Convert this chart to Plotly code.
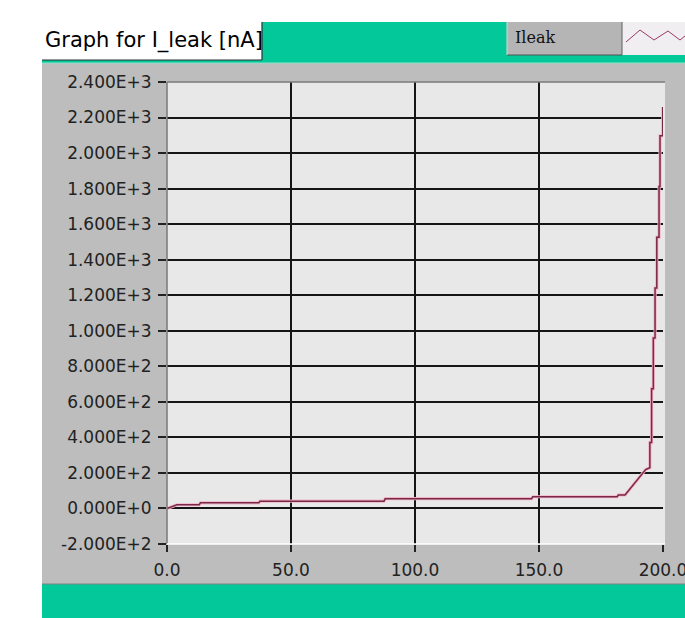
import plotly.graph_objects as go

# ---- data ----
bias_v = [0, 4, 13, 13.5, 37, 37.5, 87.5, 88, 147, 147.5, 181.5, 182, 184.7, 193, 194.7,
          194.7, 195.4, 195.4, 196.1, 196.1, 196.8, 196.8, 197.5, 197.5, 198.4, 198.4,
          198.8, 198.8, 199.9, 199.9]
i_leak = [0, 21, 21, 32, 32, 41, 41, 55, 55, 66, 66, 76, 76, 219, 229,
          371, 371, 674, 674, 960, 960, 1240, 1240, 1526, 1526, 1812,
          1812, 2097, 2097, 2260]

x_ticks = [0, 50, 100, 150, 200]
x_ticktext = ["0.0", "50.0", "100.0", "150.0", "200.0"]
x_grid = [50, 100, 150]
y_ticks = [-200, 0, 200, 400, 600, 800, 1000, 1200, 1400, 1600, 1800, 2000, 2200, 2400]
y_ticktext = ["-2.000E+2", "0.000E+0", "2.000E+2", "4.000E+2", "6.000E+2", "8.000E+2",
              "1.000E+3", "1.200E+3", "1.400E+3", "1.600E+3", "1.800E+3", "2.000E+3",
              "2.200E+3", "2.400E+3"]

W, H = 685, 618
L, R, T, B = 167, 22, 82, 74
PW, PH = W - L - R, H - T - B

def fx(p):
    return (p - L) / PW

def fy(p):
    return (H - B - p) / PH

GREEN = "#03c99a"
PANEL = "#bdbdbd"

fig = go.Figure()
fig.add_trace(go.Scatter(x=bias_v, y=i_leak, mode="lines",
                         line=dict(color="#f2b3c6", width=3.2), hoverinfo="skip",
                         showlegend=False))
fig.add_trace(go.Scatter(x=bias_v, y=i_leak, mode="lines", name="Ileak",
                         line=dict(color="#7a2848", width=1.5), showlegend=False))
# invisible trace so the labelled x axis is drawn
fig.add_trace(go.Scatter(x=[x_ticks[0], x_ticks[-1]], y=[y_ticks[0], y_ticks[0]],
                         xaxis="x2", mode="none", hoverinfo="skip", showlegend=False))

shapes = []
def rect(x0, y0, x1, y1, color, layer="below", line=None):
    shapes.append(dict(type="rect", xref="paper", yref="paper",
                       x0=fx(x0), x1=fx(x1), y0=fy(y0), y1=fy(y1),
                       fillcolor=color, layer=layer,
                       line=line if line else dict(width=0)))

def hline(x0, x1, y, color, w, layer="above"):
    shapes.append(dict(type="line", xref="paper", yref="paper",
                       x0=fx(x0), x1=fx(x1), y0=fy(y), y1=fy(y),
                       line=dict(color=color, width=w), layer=layer))

def vline(x, y0, y1, color, w, layer="above"):
    shapes.append(dict(type="line", xref="paper", yref="paper",
                       x0=fx(x), x1=fx(x), y0=fy(y0), y1=fy(y1),
                       line=dict(color=color, width=w), layer=layer))

# main gray panel
rect(42, 63, 685, 584, PANEL)
# teal stripe at top of panel
rect(42, 59, 685, 63, GREEN)
hline(42, 685, 63, "#8fe0c8", 1, layer="below")
# title band
rect(262, 22, 685, 60, GREEN)
rect(42, 22, 262, 60, "white")
hline(42, 262, 60, "#303030", 1.2, layer="below")
vline(262, 22, 60, "#303030", 1.2, layer="below")
# legend boxes
rect(507, 22, 622, 55, "#b5b5b5")
hline(507, 622, 55, "#505050", 1, layer="below")
vline(507, 22, 55, "#d8d8d8", 1, layer="below")
rect(622, 22, 685, 55, "#f0eef0")
vline(622, 22, 55, "#606060", 1, layer="below")
# bottom green band
rect(42, 584, 685, 618, GREEN)
hline(42, 685, 584, "#808080", 1, layer="below")
# plot area background
rect(L, T, W - R + 2, H - B, "#e8e8e8")
# plot border (3D inset look)
hline(L, W - R + 2, T, "#7a7a7a", 1.5)
vline(L, T, H - B, "#7a7a7a", 1.5)
hline(L, W - R + 2, H - B, "#ffffff", 1.5)

# legend sample zigzag
zz = [(626, 42), (640, 30), (654, 40), (668, 31), (680, 40), (685, 36)]
path = "M " + " L ".join(f"{fx(a)},{fy(b)}" for a, b in zz)
shapes.append(dict(type="path", xref="paper", yref="paper", path=path,
                   line=dict(color="#9a3a60", width=1), layer="above"))

annotations = [
    dict(text="Graph for I_leak [nA]", xref="paper", yref="paper",
         x=fx(43), y=fy(41), xanchor="left", yanchor="middle", showarrow=False,
         font=dict(family="DejaVu Sans", size=21, color="black")),
    dict(text="Ileak", xref="paper", yref="paper",
         x=fx(513), y=fy(37), xanchor="left", yanchor="middle", showarrow=False,
         font=dict(family="DejaVu Serif", size=16, color="#111")),
]

fig.update_layout(
    width=W, height=H, autosize=False,
    margin=dict(l=L, r=R, t=T, b=B, pad=0, autoexpand=False),
    paper_bgcolor="white", plot_bgcolor="#e8e8e8",
    shapes=shapes, annotations=annotations,
    showlegend=False,
    font=dict(family="DejaVu Sans", size=17, color="#222"),
    xaxis=dict(range=[0, 200], tickvals=x_grid, showticklabels=False, ticks="",
               showgrid=True, gridcolor="#151515", gridwidth=1.6,
               zeroline=False, showline=False, automargin=False),
    xaxis2=dict(range=[0, 200], overlaying="x", side="bottom", anchor="y",
                tickvals=x_ticks, ticktext=x_ticktext, showgrid=False,
                zeroline=False, showline=False, automargin=False,
                ticks="outside", ticklen=7, tickwidth=1.5, tickcolor="#222",
                ticklabelstandoff=4, ticklabeloverflow="allow",
                tickfont=dict(size=17, color="#222")),
    yaxis=dict(range=[-200, 2400], tickvals=y_ticks, ticktext=y_ticktext,
               showgrid=True, gridcolor="#151515", gridwidth=1.6,
               zeroline=False, showline=False, automargin=False,
               ticks="outside", ticklen=8, tickwidth=1.5, tickcolor="#222",
               ticklabelstandoff=3, tickfont=dict(size=17, color="#222")),
)

post = "document.body.style.margin='0px';document.body.style.overflow='hidden';"
fig.write_html("out.html", config={"displayModeBar": False}, post_script=post)
